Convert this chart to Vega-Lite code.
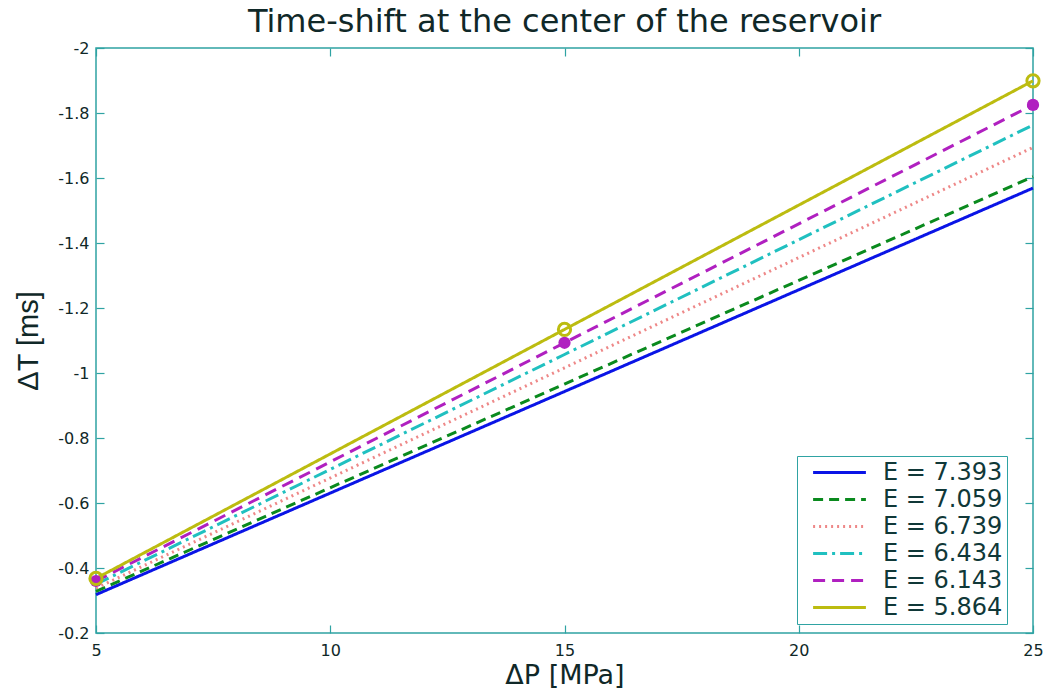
{
  "$schema": "https://vega.github.io/schema/vega-lite/v6.json",
  "width": 937,
  "height": 585,
  "autosize": {"type": "none"},
  "padding": {"left": 96, "top": 48, "right": 13, "bottom": 58},
  "background": "white",
  "title": {
    "text": "Time-shift at the center of the reservoir",
    "font": "DejaVu Sans",
    "fontSize": 32,
    "fontWeight": "normal",
    "color": "#102828",
    "anchor": "middle",
    "offset": 1
  },
  "config": {
    "view": {"stroke": "#2fa3a3", "strokeWidth": 1.5},
    "axis": {
      "domain": false,
      "grid": false,
      "tickColor": "#2fa3a3",
      "tickWidth": 1.2,
      "tickSize": -8,
      "labelFont": "DejaVu Sans",
      "labelFontSize": 16,
      "labelColor": "#102828",
      "titleFont": "Liberation Sans",
      "titleFontSize": 29,
      "titleFontWeight": "normal",
      "titleColor": "#102828"
    }
  },
  "data": {
    "values": [
      {"dP": 5, "dT": -0.318, "series": "E = 7.393"},
      {"dP": 15, "dT": -0.943, "series": "E = 7.393"},
      {"dP": 25, "dT": -1.569, "series": "E = 7.393"},
      {"dP": 5, "dT": -0.328, "series": "E = 7.059"},
      {"dP": 15, "dT": -0.966, "series": "E = 7.059"},
      {"dP": 25, "dT": -1.604, "series": "E = 7.059"},
      {"dP": 5, "dT": -0.338, "series": "E = 6.739"},
      {"dP": 15, "dT": -1.016, "series": "E = 6.739"},
      {"dP": 25, "dT": -1.694, "series": "E = 6.739"},
      {"dP": 5, "dT": -0.350, "series": "E = 6.434"},
      {"dP": 15, "dT": -1.057, "series": "E = 6.434"},
      {"dP": 25, "dT": -1.763, "series": "E = 6.434"},
      {"dP": 5, "dT": -0.360, "series": "E = 6.143"},
      {"dP": 15, "dT": -1.093, "series": "E = 6.143"},
      {"dP": 25, "dT": -1.825, "series": "E = 6.143"},
      {"dP": 5, "dT": -0.368, "series": "E = 5.864"},
      {"dP": 15, "dT": -1.134, "series": "E = 5.864"},
      {"dP": 25, "dT": -1.899, "series": "E = 5.864"}
    ]
  },
  "layer": [
    {
      "mark": {"type": "line", "strokeWidth": 3},
      "encoding": {
        "x": {
          "field": "dP", "type": "quantitative",
          "scale": {"domain": [5, 25], "nice": false, "zero": false},
          "axis": {
            "orient": "bottom",
            "values": [5, 10, 15, 20, 25],
            "labelPadding": 17,
            "labelFlush": false,
            "title": "ΔP [MPa]",
            "titleFont": "DejaVu Sans",
            "titleFontSize": 27,
            "titlePadding": 4
          }
        },
        "y": {
          "field": "dT", "type": "quantitative",
          "scale": {"domain": [-2, -0.2], "reverse": true, "nice": false, "zero": false},
          "axis": {
            "orient": "left",
            "values": [-2, -1.8, -1.6, -1.4, -1.2, -1, -0.8, -0.6, -0.4, -0.2],
            "labelExpr": "'-' + format(abs(datum.value), '~g')",
            "labelPadding": 15,
            "labelFlush": false,
            "title": "ΔT [ms]",
            "titlePadding": 14
          }
        },
        "color": {
          "field": "series", "type": "nominal",
          "scale": {
            "domain": ["E = 7.393", "E = 7.059", "E = 6.739", "E = 6.434", "E = 6.143", "E = 5.864"],
            "range": ["#0a14e6", "#0a8a1e", "#ee8888", "#20c0c0", "#b020c0", "#bcbc10"]
          },
          "legend": {
            "title": null,
            "orient": "none",
            "legendX": 701,
            "legendY": 408,
            "strokeColor": "#2fa3a3",
            "fillColor": "white",
            "padding": 4,
            "symbolType": "M-2.4,0H2.4",
            "symbolSize": 484,
            "symbolStrokeWidth": 3,
            "symbolOffset": 26,
            "labelOffset": 31,
            "labelExpr": "datum.label + '\u00a0\u00a0\u00a0\u00a0\u00a0'",
            "labelFont": "DejaVu Sans",
            "labelFontSize": 24,
            "labelColor": "#103838",
            "rowPadding": 2
          }
        },
        "strokeDash": {
          "field": "series", "type": "nominal",
          "scale": {
            "domain": ["E = 7.393", "E = 7.059", "E = 6.739", "E = 6.434", "E = 6.143", "E = 5.864"],
            "range": [[1, 0], [10, 6], [2, 4], [14, 5, 3, 5], [12, 7], [1, 0]]
          },
          "legend": {
            "title": null,
            "orient": "none",
            "legendX": 701,
            "legendY": 408,
            "strokeColor": "#2fa3a3",
            "fillColor": "white",
            "padding": 4,
            "symbolType": "M-2.4,0H2.4",
            "symbolSize": 484,
            "symbolStrokeWidth": 3,
            "symbolOffset": 26,
            "labelOffset": 31,
            "labelExpr": "datum.label + '\u00a0\u00a0\u00a0\u00a0\u00a0'",
            "labelFont": "DejaVu Sans",
            "labelFontSize": 24,
            "labelColor": "#103838",
            "rowPadding": 2
          }
        }
      }
    },
    {
      "transform": [{"filter": "datum.series == 'E = 6.143'"}],
      "mark": {"type": "point", "filled": true, "size": 150, "color": "#b020c0", "opacity": 1},
      "encoding": {
        "x": {"field": "dP", "type": "quantitative", "axis": null},
        "y": {"field": "dT", "type": "quantitative", "axis": null}
      }
    },
    {
      "transform": [{"filter": "datum.series == 'E = 5.864'"}],
      "mark": {"type": "point", "filled": false, "size": 150, "strokeWidth": 3, "color": "#bcbc10", "opacity": 1},
      "encoding": {
        "x": {"field": "dP", "type": "quantitative", "axis": null},
        "y": {"field": "dT", "type": "quantitative", "axis": null}
      }
    },
    {
      "mark": {"type": "point", "opacity": 0},
      "encoding": {
        "x": {
          "field": "dP", "type": "quantitative",
          "axis": {"orient": "top", "values": [5, 10, 15, 20, 25], "labels": false, "title": null}
        },
        "y": {
          "field": "dT", "type": "quantitative",
          "axis": {"orient": "right", "values": [-2, -1.8, -1.6, -1.4, -1.2, -1, -0.8, -0.6, -0.4, -0.2], "labels": false, "title": null}
        }
      }
    }
  ],
  "resolve": {"axis": {"x": "independent", "y": "independent"}}
}
